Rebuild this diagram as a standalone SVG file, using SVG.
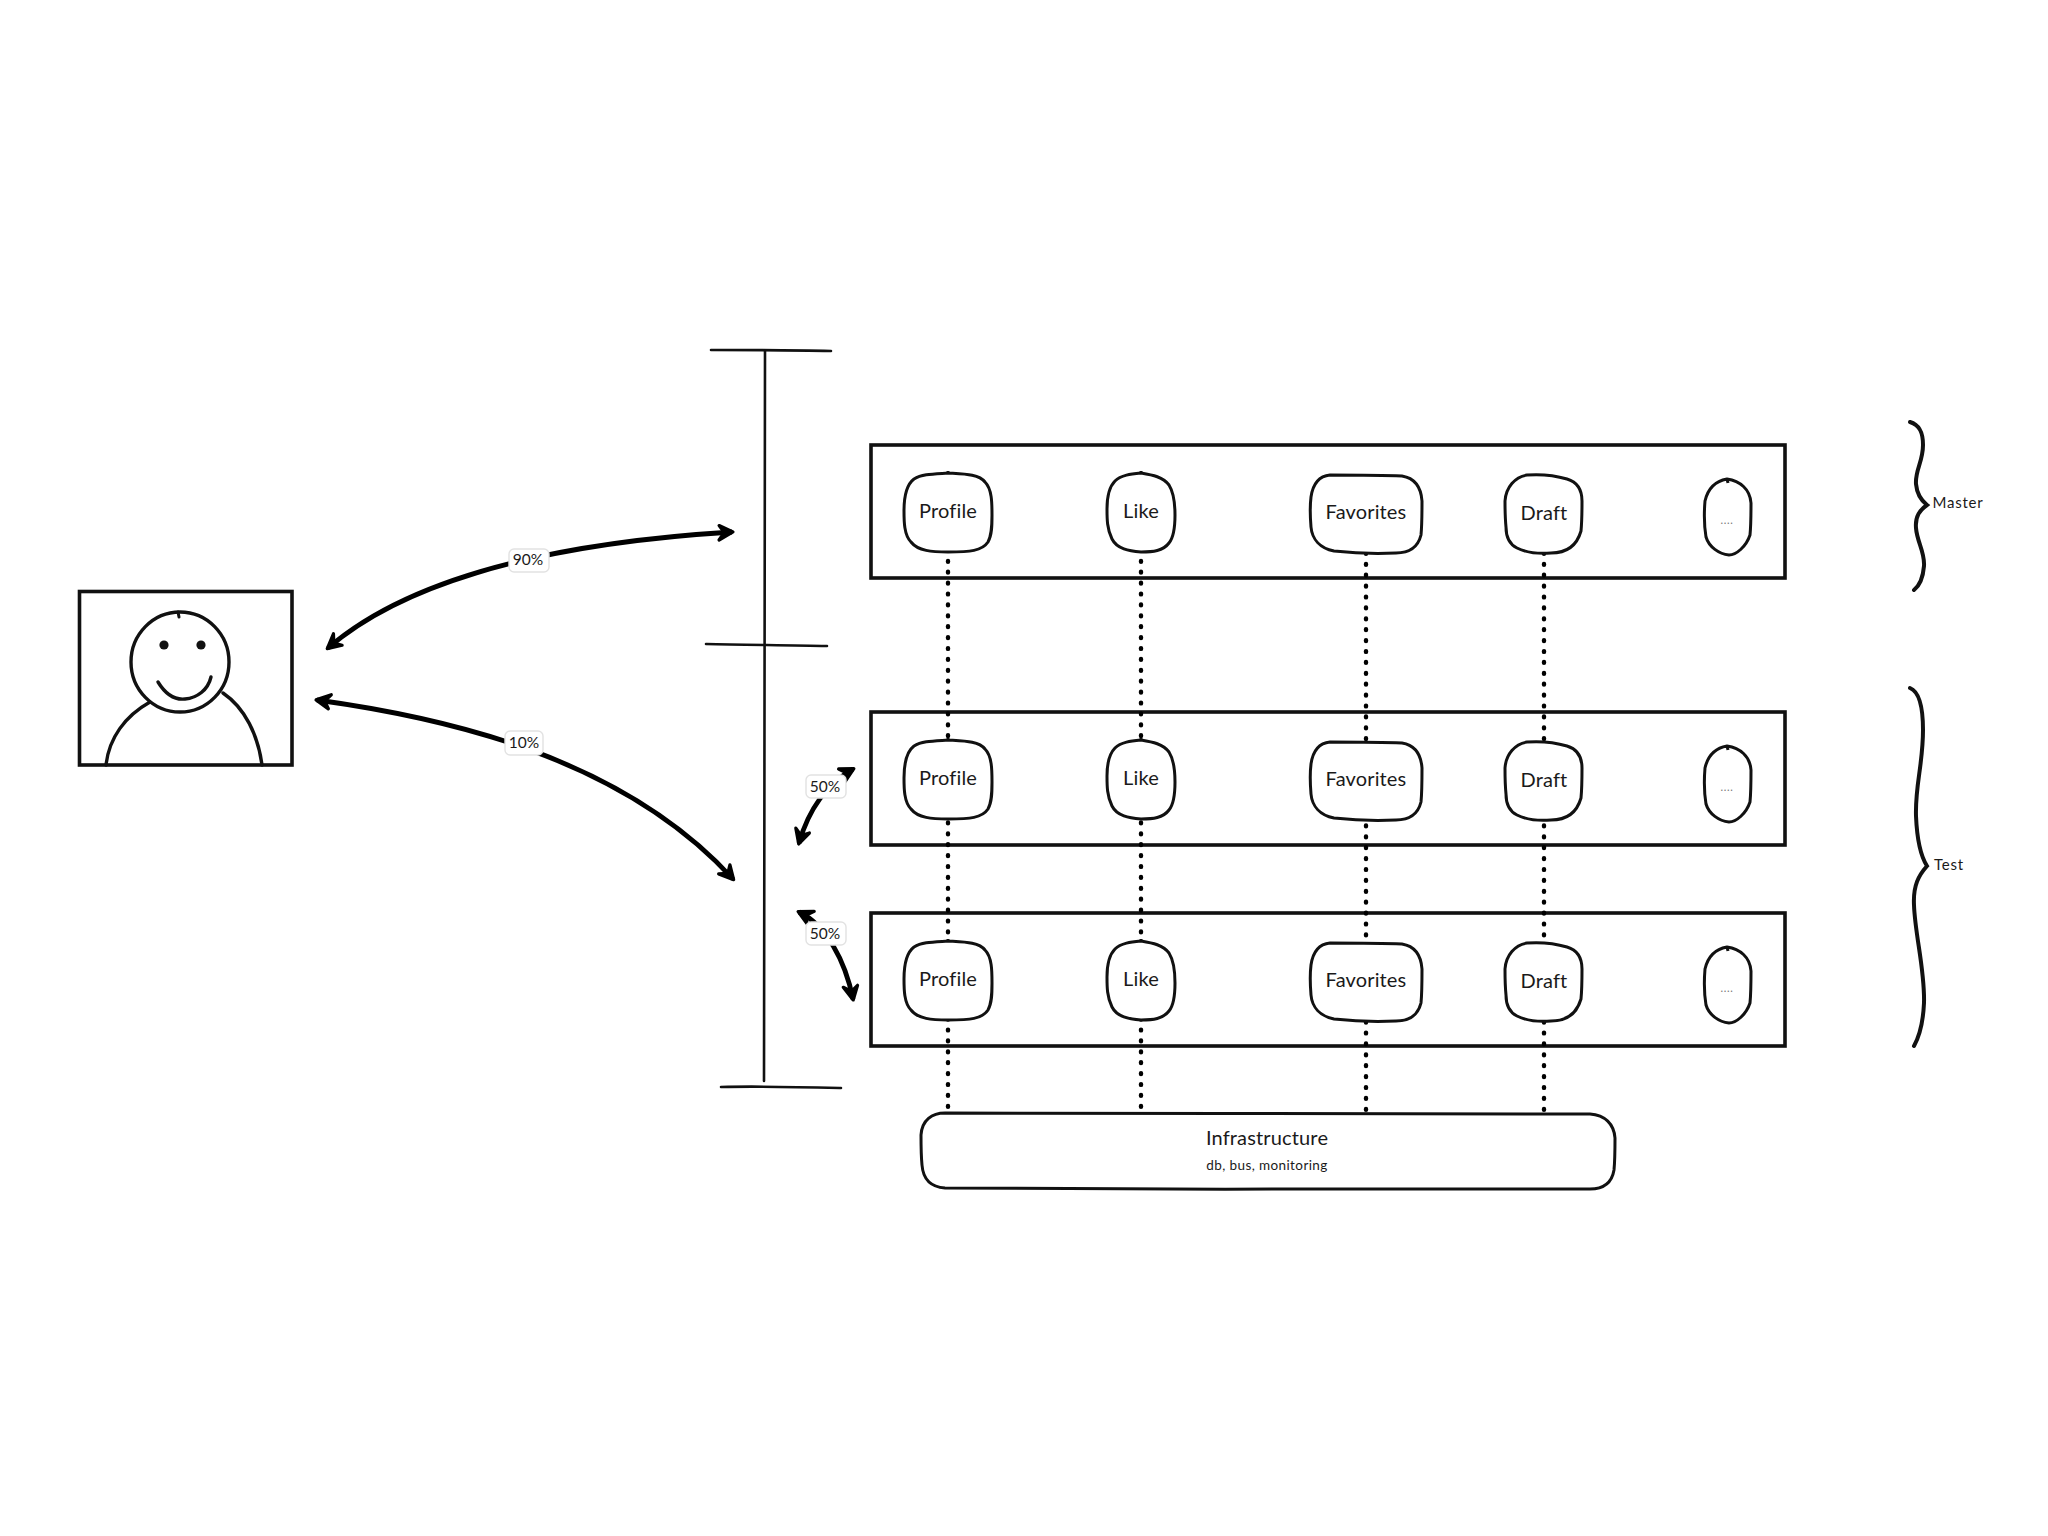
<svg xmlns="http://www.w3.org/2000/svg" xmlns:xlink="http://www.w3.org/1999/xlink" width="2048" height="1536" viewBox="0 0 2048 1536">
<style>
text{font-family:"Lato","Noto Sans",sans-serif;fill:#1a1a1a;text-anchor:middle}
.t{font-size:20px;letter-spacing:.15px}
.s{font-size:13.5px;letter-spacing:.4px}
.g{font-size:15px;letter-spacing:.8px}
.l{font-size:15.5px}
.d{font-size:11px;fill:#777;letter-spacing:.6px}
.row{fill:none;stroke:#111;stroke-width:3.6}
.n{fill:#fff;stroke:#111;stroke-width:3}
.line{fill:none;stroke:#111;stroke-width:2.6;stroke-linecap:round}
.p{fill:none;stroke:#111;stroke-width:3.4;stroke-linecap:round}
.arrow{fill:none;stroke:#000;stroke-width:4.8;marker-start:url(#ah);marker-end:url(#ah)}
.dots{fill:none;stroke:#000;stroke-width:4.4;stroke-linecap:round;stroke-dasharray:.8 10.1}
.brace{fill:none;stroke:#111;stroke-width:4;stroke-linecap:round}
.lb{fill:#fff;stroke:#e2e2e2;stroke-width:1.4}
.nub{fill:none;stroke:#111;stroke-width:3;stroke-linecap:round}
</style>
<defs>
<marker id="ah" markerUnits="userSpaceOnUse" markerWidth="23" markerHeight="19.2" refX="18" refY="10" orient="auto-start-reverse" viewBox="0 0 24 20">
<path d="M5,2.5 L19,10 L4,17.5 L10,10Z" fill="#000" stroke="#000" stroke-width="3.4" stroke-linejoin="round"/>
</marker>
<path id="profile" class="n" d="M44,0 C60,1 75,1 81,9 C88,16 88,30 88,42 C88,52 88,62 84,69 C78,78 66,79 44,79 C28,79 14,78 7,69 C0,62 0,48 0,38 C0,24 2,12 10,6 C18,1 30,1 44,0Z M44,0 V-2"/>
<path id="like" class="n" d="M34,0 C46,2 56,4 62,12 C67,20 68,32 68,42 C68,54 67,64 62,70 C56,78 46,79 34,79 C22,78 10,76 5,66 C0,56 0,46 0,36 C0,24 2,14 8,8 C14,2 24,1 34,0Z M34,0 V-2"/>
<path id="fav" class="n" d="M20,0 C45,0 70,0 92,1 C104,3 111,12 112,26 C112,38 112,50 111,60 C108,72 100,78 86,78 C65,79 42,78 24,76 C10,73 2,64 1,52 C0,40 0,30 1,22 C3,8 10,1 20,0Z"/>
<path id="draft" class="n" d="M22,0 C36,-1 52,1 62,4 C72,7 77,14 77,26 C77,36 77,46 76,56 C72,70 62,78 46,78 C34,79 22,78 12,73 C4,69 1,62 1,52 C0,42 0,34 0,26 C1,12 10,2 22,0Z"/>
<path id="more" class="n" d="M23,0 C36,2 46,10 47,24 C47,36 47,46 46,56 C42,68 32,76 25,76 C15,75 5,68 2,58 C0,46 0,34 1,22 C4,9 12,2 23,0Z M23,0 L24,4"/>
</defs>
<rect width="2048" height="1536" fill="#fff"/>

<g id="user">
<rect class="row" x="79.500" y="591.500" width="212.500" height="173.500"/>
<path class="p" d="M106,765 C109,738 125,716 150,702"/>
<path class="p" d="M223,693 C245,708 258,735 262,765"/>
<ellipse class="p" cx="180" cy="662" rx="49" ry="50"/>
<path class="nub" d="M178,612 L179,617"/>
<circle cx="164" cy="645" r="4.6" fill="#111"/>
<circle cx="201" cy="645" r="4.6" fill="#111"/>
<path class="p" d="M158,682 C166,695 176,700 185,699 C197,698 208,690 211,677"/>
</g>

<g id="ruler">
<path class="line" d="M711,350 C750,350 790,350 831,351"/>
<path class="line" d="M765,351 L764,1081"/>
<path class="line" d="M706,644 C745,645 790,645 827,646"/>
<path class="line" d="M721,1087 C760,1086 800,1087 841,1088"/>
</g>

<g id="row-master"><rect class="row" x="871" y="445" width="914" height="133"/></g>
<g id="row-test-a"><rect class="row" x="871" y="712" width="914" height="133"/></g>
<g id="row-test-b"><rect class="row" x="871" y="913" width="914" height="133"/></g>

<g id="connectors">
<path class="dots" d="M948,550 V1108"/>
<path class="dots" d="M1141,550 V1108"/>
<path class="dots" d="M1366,553 V1110"/>
<path class="dots" d="M1544,553 V1110"/>
<path class="arrow" d="M328,648 C395,590 520,545 732,532"/>
<path class="arrow" d="M317,700 C440,717 620,755 733,879"/>
<path class="arrow" d="M799,843 C808,812 825,785 853,769"/>
<path class="arrow" d="M799,912 C826,925 845,960 853,999"/>
</g>

<g id="label-90"><rect class="lb" x="509" y="549" width="40" height="23" rx="5"/><text class="l" x="528" y="565">90%</text></g>
<g id="label-10"><rect class="lb" x="505" y="731" width="38" height="24" rx="5"/><text class="l" x="524" y="748">10%</text></g>
<g id="label-50a"><rect class="lb" x="806" y="775" width="40" height="23" rx="5"/><text class="l" x="825" y="792">50%</text></g>
<g id="label-50b"><rect class="lb" x="806" y="922" width="40" height="23" rx="5"/><text class="l" x="825" y="939">50%</text></g>

<g id="m-profile"><use href="#profile" x="904" y="473"/><text class="t" x="948" y="518">Profile</text></g>
<g id="m-like"><use href="#like" x="1107" y="473"/><text class="t" x="1141" y="518">Like</text></g>
<g id="m-favorites"><use href="#fav" x="1310" y="475"/><text class="t" x="1366" y="519">Favorites</text></g>
<g id="m-draft"><use href="#draft" x="1505" y="475"/><text class="t" x="1544" y="520">Draft</text></g>
<g id="m-more"><use href="#more" x="1704" y="479"/><text class="d" x="1727" y="524">....</text></g>

<g id="a-profile"><use href="#profile" x="904" y="740"/><text class="t" x="948" y="785">Profile</text></g>
<g id="a-like"><use href="#like" x="1107" y="740"/><text class="t" x="1141" y="785">Like</text></g>
<g id="a-favorites"><use href="#fav" x="1310" y="742"/><text class="t" x="1366" y="786">Favorites</text></g>
<g id="a-draft"><use href="#draft" x="1505" y="742"/><text class="t" x="1544" y="787">Draft</text></g>
<g id="a-more"><use href="#more" x="1704" y="746"/><text class="d" x="1727" y="791">....</text></g>

<g id="b-profile"><use href="#profile" x="904" y="941"/><text class="t" x="948" y="986">Profile</text></g>
<g id="b-like"><use href="#like" x="1107" y="941"/><text class="t" x="1141" y="986">Like</text></g>
<g id="b-favorites"><use href="#fav" x="1310" y="943"/><text class="t" x="1366" y="987">Favorites</text></g>
<g id="b-draft"><use href="#draft" x="1505" y="943"/><text class="t" x="1544" y="988">Draft</text></g>
<g id="b-more"><use href="#more" x="1704" y="947"/><text class="d" x="1727" y="992">....</text></g>

<g id="infrastructure">
<path class="n" d="M945,1113 C1150,1114 1400,1113 1590,1114 C1605,1115 1614,1124 1615,1138 C1615,1150 1615,1160 1614,1170 C1612,1182 1604,1189 1590,1189 C1400,1190 1150,1189 945,1188 C930,1187 923,1178 922,1165 C921,1155 921,1145 921,1135 C922,1120 932,1113 945,1113Z"/>
<text class="t" x="1267" y="1145">Infrastructure</text>
<text class="s" x="1267" y="1170">db, bus, monitoring</text>
</g>

<g id="master">
<path class="brace" d="M1910,422 C1920,425 1923,433 1923,445 C1923,462 1915,470 1916,484 C1917,495 1922,501 1927,505 C1920,510 1915,516 1916,528 C1917,542 1925,552 1924,566 C1923,578 1919,586 1914,590"/>
<text class="g" x="1958" y="508">Master</text>
</g>
<g id="test">
<path class="brace" d="M1910,688 C1920,692 1923,708 1923,730 C1923,765 1915,785 1916,816 C1917,840 1920,855 1927,866 C1919,875 1913,885 1914,905 C1915,935 1925,970 1924,1003 C1923,1025 1919,1037 1914,1046"/>
<text class="g" x="1949" y="870">Test</text>
</g>
</svg>
